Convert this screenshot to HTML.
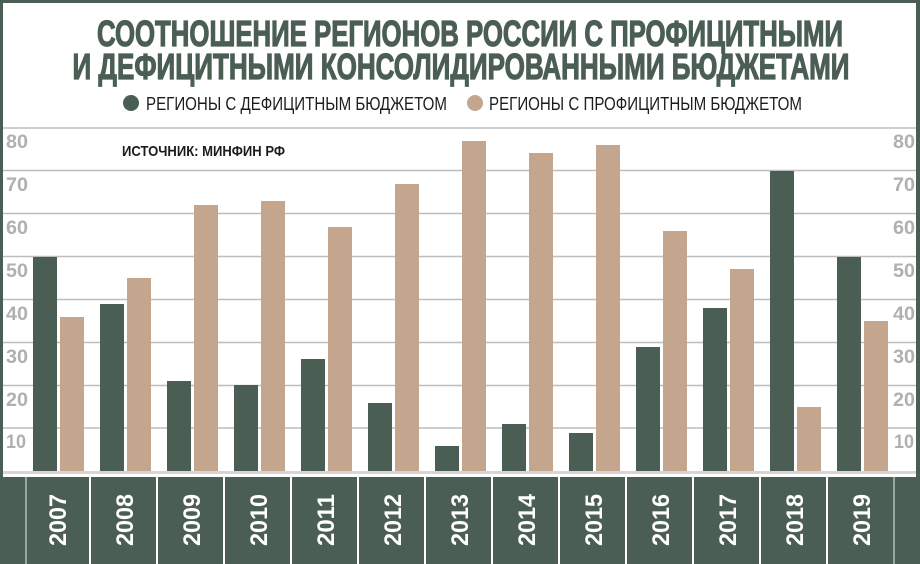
<!DOCTYPE html>
<html><head><meta charset="utf-8"><style>
html,body{margin:0;padding:0;background:#fff}
svg{display:block}
text{font-family:"Liberation Sans Narrow","Liberation Sans",sans-serif}
</style></head><body>
<svg width="920" height="564" viewBox="0 0 920 564" xmlns="http://www.w3.org/2000/svg">
<rect x="0" y="0" width="920" height="564" fill="#4b5e53"/>
<rect x="3" y="3" width="913" height="474" fill="#ffffff"/>
<g stroke="#bdbdbd" stroke-width="1.5">
<line x1="3" x2="916" y1="128" y2="128"/>
<line x1="3" x2="916" y1="170.5" y2="170.5"/>
<line x1="3" x2="916" y1="213.5" y2="213.5"/>
<line x1="3" x2="916" y1="256.5" y2="256.5"/>
<line x1="3" x2="916" y1="299.5" y2="299.5"/>
<line x1="3" x2="916" y1="342.5" y2="342.5"/>
<line x1="3" x2="916" y1="385.5" y2="385.5"/>
<line x1="3" x2="916" y1="428" y2="428"/>
</g>
<rect x="3" y="471" width="913" height="3" fill="#d6d6d6"/>
<g font-weight="bold" font-size="19" fill="#b0b0b0">
<text x="6" y="148" textLength="22" lengthAdjust="spacingAndGlyphs">80</text>
<text x="6" y="191" textLength="22" lengthAdjust="spacingAndGlyphs">70</text>
<text x="6" y="234" textLength="22" lengthAdjust="spacingAndGlyphs">60</text>
<text x="6" y="277" textLength="22" lengthAdjust="spacingAndGlyphs">50</text>
<text x="6" y="320" textLength="22" lengthAdjust="spacingAndGlyphs">40</text>
<text x="6" y="363" textLength="22" lengthAdjust="spacingAndGlyphs">30</text>
<text x="6" y="406" textLength="22" lengthAdjust="spacingAndGlyphs">20</text>
<text x="6" y="448" textLength="20" lengthAdjust="spacingAndGlyphs">10</text>
<text x="893" y="148" textLength="22" lengthAdjust="spacingAndGlyphs">80</text>
<text x="893" y="191" textLength="22" lengthAdjust="spacingAndGlyphs">70</text>
<text x="893" y="234" textLength="22" lengthAdjust="spacingAndGlyphs">60</text>
<text x="893" y="277" textLength="22" lengthAdjust="spacingAndGlyphs">50</text>
<text x="893" y="320" textLength="22" lengthAdjust="spacingAndGlyphs">40</text>
<text x="893" y="363" textLength="22" lengthAdjust="spacingAndGlyphs">30</text>
<text x="893" y="406" textLength="22" lengthAdjust="spacingAndGlyphs">20</text>
<text x="894" y="448" textLength="20" lengthAdjust="spacingAndGlyphs">10</text>
</g>
<g fill="#4b5e53" stroke="#4b5e53" stroke-width="1.2" font-weight="bold" text-anchor="middle">
<text x="470" y="46" font-size="36" textLength="746" lengthAdjust="spacingAndGlyphs">СООТНОШЕНИЕ РЕГИОНОВ РОССИИ С ПРОФИЦИТНЫМИ</text>
<text x="461" y="79" font-size="36" textLength="777" lengthAdjust="spacingAndGlyphs">И ДЕФИЦИТНЫМИ КОНСОЛИДИРОВАННЫМИ БЮДЖЕТАМИ</text>
</g>
<circle cx="131" cy="103" r="8" fill="#4b5e53"/>
<circle cx="475" cy="103" r="8" fill="#c4a68e"/>
<g fill="#1c1c1c" font-size="18">
<text x="146" y="110" textLength="301" lengthAdjust="spacingAndGlyphs">РЕГИОНЫ С ДЕФИЦИТНЫМ БЮДЖЕТОМ</text>
<text x="489" y="110" textLength="313" lengthAdjust="spacingAndGlyphs">РЕГИОНЫ С ПРОФИЦИТНЫМ БЮДЖЕТОМ</text>
<text x="122" y="156" font-size="15" font-weight="bold" textLength="163" lengthAdjust="spacingAndGlyphs">ИСТОЧНИК: МИНФИН РФ</text>
</g>
<g fill="#4b5e53">
<rect x="33" y="257" width="24" height="214"/>
<rect x="100" y="304" width="24" height="167"/>
<rect x="167" y="381" width="24" height="90"/>
<rect x="234" y="385" width="24" height="86"/>
<rect x="301" y="359" width="24" height="112"/>
<rect x="368" y="403" width="24" height="68"/>
<rect x="435" y="446" width="24" height="25"/>
<rect x="502" y="424" width="24" height="47"/>
<rect x="569" y="433" width="24" height="38"/>
<rect x="636" y="347" width="24" height="124"/>
<rect x="703" y="308" width="24" height="163"/>
<rect x="770" y="171" width="24" height="300"/>
<rect x="837" y="257" width="24" height="214"/>
</g>
<g fill="#c4a68e">
<rect x="60" y="317" width="24" height="154"/>
<rect x="127" y="278" width="24" height="193"/>
<rect x="194" y="205" width="24" height="266"/>
<rect x="261" y="201" width="24" height="270"/>
<rect x="328" y="227" width="24" height="244"/>
<rect x="395" y="184" width="24" height="287"/>
<rect x="462" y="141" width="24" height="330"/>
<rect x="529" y="153" width="24" height="318"/>
<rect x="596" y="145" width="24" height="326"/>
<rect x="663" y="231" width="24" height="240"/>
<rect x="730" y="269" width="24" height="202"/>
<rect x="797" y="407" width="24" height="64"/>
<rect x="864" y="321" width="24" height="150"/>
</g>
<g stroke="#ffffff" stroke-width="2">
<line x1="26" x2="26" y1="477" y2="564" stroke="#9aa59f"/>
<line x1="90" x2="90" y1="477" y2="564"/>
<line x1="157" x2="157" y1="477" y2="564"/>
<line x1="224" x2="224" y1="477" y2="564"/>
<line x1="291" x2="291" y1="477" y2="564"/>
<line x1="358" x2="358" y1="477" y2="564"/>
<line x1="425" x2="425" y1="477" y2="564"/>
<line x1="492" x2="492" y1="477" y2="564"/>
<line x1="559" x2="559" y1="477" y2="564"/>
<line x1="626" x2="626" y1="477" y2="564"/>
<line x1="693" x2="693" y1="477" y2="564"/>
<line x1="760" x2="760" y1="477" y2="564"/>
<line x1="827" x2="827" y1="477" y2="564"/>
<line x1="894" x2="894" y1="477" y2="564" stroke="#9aa59f"/>
</g>
<g fill="#ffffff" font-weight="bold" font-size="24" text-anchor="middle">
<text transform="translate(66,520) rotate(-90)" textLength="52" lengthAdjust="spacingAndGlyphs">2007</text>
<text transform="translate(133,520) rotate(-90)" textLength="52" lengthAdjust="spacingAndGlyphs">2008</text>
<text transform="translate(200,520) rotate(-90)" textLength="52" lengthAdjust="spacingAndGlyphs">2009</text>
<text transform="translate(267,520) rotate(-90)" textLength="52" lengthAdjust="spacingAndGlyphs">2010</text>
<text transform="translate(334,520) rotate(-90)" textLength="52" lengthAdjust="spacingAndGlyphs">2011</text>
<text transform="translate(401,520) rotate(-90)" textLength="52" lengthAdjust="spacingAndGlyphs">2012</text>
<text transform="translate(468,520) rotate(-90)" textLength="52" lengthAdjust="spacingAndGlyphs">2013</text>
<text transform="translate(535,520) rotate(-90)" textLength="52" lengthAdjust="spacingAndGlyphs">2014</text>
<text transform="translate(602,520) rotate(-90)" textLength="52" lengthAdjust="spacingAndGlyphs">2015</text>
<text transform="translate(669,520) rotate(-90)" textLength="52" lengthAdjust="spacingAndGlyphs">2016</text>
<text transform="translate(736,520) rotate(-90)" textLength="52" lengthAdjust="spacingAndGlyphs">2017</text>
<text transform="translate(803,520) rotate(-90)" textLength="52" lengthAdjust="spacingAndGlyphs">2018</text>
<text transform="translate(870,520) rotate(-90)" textLength="52" lengthAdjust="spacingAndGlyphs">2019</text>
</g>
</svg>
</body></html>
